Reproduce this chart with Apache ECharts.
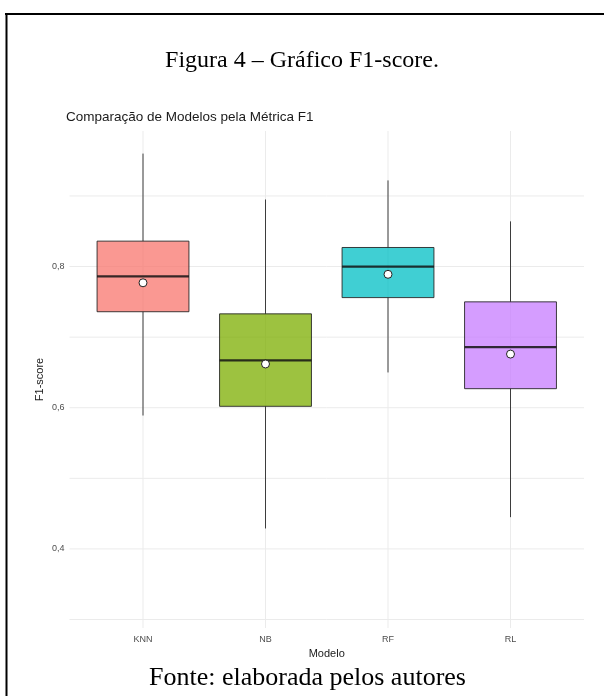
<!DOCTYPE html>
<html>
<head>
<meta charset="utf-8">
<script src="https://cdn.jsdelivr.net/npm/echarts@6/dist/echarts.min.js"></script>
<style>
  html, body { margin: 0; padding: 0; background: #fff; }
  #main { width: 604px; height: 696px; }
</style>
</head>
<body>
<div id="main"></div>
<script>
// 数据
var models = ['KNN', 'NB', 'RF', 'RL'];
var whiskerLow = [0.589, 0.429, 0.650, 0.445];
var q1 = [0.736, 0.602, 0.756, 0.627];
var median = [0.786, 0.667, 0.800, 0.686];
var q3 = [0.836, 0.733, 0.827, 0.750];
var whiskerHigh = [0.960, 0.895, 0.922, 0.864];
var means = [0.777, 0.662, 0.789, 0.676];
var yTicks = [0.4, 0.6, 0.8];
var yGrid = [0.3, 0.4, 0.5, 0.6, 0.7, 0.8, 0.9];

var fills = ['rgba(248,118,109,0.75)', 'rgba(124,174,0,0.75)', 'rgba(0,191,196,0.75)', 'rgba(199,124,255,0.75)'];

var xPos = models.map(function (m, i) { return i + 1; });
var boxData = models.map(function (m, i) {
    return [xPos[i], whiskerLow[i], q1[i], median[i], q3[i], whiskerHigh[i]];
});
var meanData = models.map(function (m, i) { return [xPos[i], means[i]]; });

var sans = 'Liberation Sans';
var serif = 'Liberation Serif';

var myChart = echarts.init(document.getElementById('main'));

myChart.setOption({
    animation: false,
    title: [{
        text: 'Figura 4 – Gráfico F1-score.',
        left: 'center',
        top: 49,
        padding: 0,
        textStyle: { fontFamily: serif, fontWeight: 'normal', fontSize: 24, color: '#000' }
    }, {
        text: 'Comparação de Modelos pela Métrica F1',
        left: 66,
        top: 110,
        padding: 0,
        textStyle: { fontFamily: sans, fontWeight: 'normal', fontSize: 13.5, color: '#1a1a1a' }
    }, {
        text: 'Fonte: elaborada pelos autores',
        left: 149,
        top: 665,
        padding: 0,
        textStyle: { fontFamily: serif, fontWeight: 'normal', fontSize: 26, color: '#000' }
    }],
    graphic: [{
        type: 'line',
        shape: { x1: 5, y1: 14, x2: 604, y2: 14 },
        style: { stroke: '#000', lineWidth: 2 }
    }, {
        type: 'line',
        shape: { x1: 6.5, y1: 13, x2: 6.5, y2: 696 },
        style: { stroke: '#000', lineWidth: 2 }
    }],
    grid: { left: 69.5, right: 20, top: 131, bottom: 68 },
    xAxis: {
        type: 'value',
        min: 0.4,
        max: 4.6,
        name: 'Modelo',
        nameLocation: 'middle',
        nameGap: 19,
        nameTextStyle: { fontFamily: sans, fontSize: 11, color: '#1a1a1a' },
        axisLine: { show: false },
        axisTick: { show: false, customValues: xPos },
        splitLine: { show: false },
        axisLabel: {
            customValues: xPos,
            margin: 7,
            fontFamily: sans,
            fontSize: 9,
            color: '#4d4d4d',
            formatter: function (v) {
                return Math.abs(v - Math.round(v)) < 1e-6 ? (models[Math.round(v) - 1] || '') : '';
            }
        }
    },
    yAxis: {
        type: 'value',
        min: 0.288,
        max: 0.992,
        name: 'F1-score',
        nameLocation: 'middle',
        nameGap: 24,
        nameMoveOverlap: false,
        nameTextStyle: { fontFamily: sans, fontSize: 11, color: '#1a1a1a' },
        axisLine: { show: false },
        axisTick: { show: false, customValues: yTicks },
        splitLine: { show: false },
        axisLabel: {
            customValues: yTicks,
            margin: 5,
            fontFamily: sans,
            fontSize: 9,
            color: '#4d4d4d',
            formatter: function (v) {
                var r = Math.round(v * 10) / 10;
                if (Math.abs(v - r) > 1e-6 || yTicks.indexOf(r) < 0) return '';
                return r.toFixed(1).replace('.', ',');
            }
        }
    },
    series: [{
        // 网格线
        type: 'custom',
        silent: true,
        z: 0,
        data: yGrid.map(function (v) { return [v]; }).concat(xPos.map(function (x) { return [-1, x]; })),
        encode: { x: [], y: [] },
        renderItem: function (params, api) {
            var a = api.value(0), b, p1, p2;
            if (a >= 0) {
                p1 = api.coord([0.4, a]);
                p2 = api.coord([4.6, a]);
            } else {
                b = api.value(1);
                p1 = api.coord([b, 0.288]);
                p2 = api.coord([b, 0.992]);
            }
            return {
                type: 'line',
                shape: { x1: p1[0], y1: p1[1], x2: p2[0], y2: p2[1] },
                style: { stroke: '#ebebeb', lineWidth: 1 }
            };
        }
    }, {
        // 箱线图
        type: 'custom',
        z: 2,
        data: boxData,
        encode: { x: 0, y: [1, 2, 3, 4, 5] },
        renderItem: function (params, api) {
            var x = api.value(0);
            var pLow = api.coord([x, api.value(1)]);
            var pQ1 = api.coord([x, api.value(2)]);
            var pMed = api.coord([x, api.value(3)]);
            var pQ3 = api.coord([x, api.value(4)]);
            var pHigh = api.coord([x, api.value(5)]);
            var half = api.size([0.75, 0])[0] / 2;
            var cx = pMed[0];
            var stroke = 'rgba(30,30,30,0.85)';
            return {
                type: 'group',
                children: [{
                    type: 'line',
                    shape: { x1: cx, y1: pHigh[1], x2: cx, y2: pQ3[1] },
                    style: { stroke: stroke, lineWidth: 1 }
                }, {
                    type: 'line',
                    shape: { x1: cx, y1: pQ1[1], x2: cx, y2: pLow[1] },
                    style: { stroke: stroke, lineWidth: 1 }
                }, {
                    type: 'rect',
                    shape: { x: cx - half, y: pQ3[1], width: half * 2, height: pQ1[1] - pQ3[1] },
                    style: { fill: fills[params.dataIndex], stroke: stroke, lineWidth: 1 }
                }, {
                    type: 'line',
                    shape: { x1: cx - half, y1: pMed[1], x2: cx + half, y2: pMed[1] },
                    style: { stroke: 'rgba(20,20,20,0.85)', lineWidth: 2.2 }
                }]
            };
        }
    }, {
        // 均值
        type: 'scatter',
        z: 3,
        data: meanData,
        symbol: 'circle',
        symbolSize: 8,
        itemStyle: { color: '#fff', borderColor: '#222', borderWidth: 1, opacity: 1 }
    }]
});
</script>
</body>
</html>
